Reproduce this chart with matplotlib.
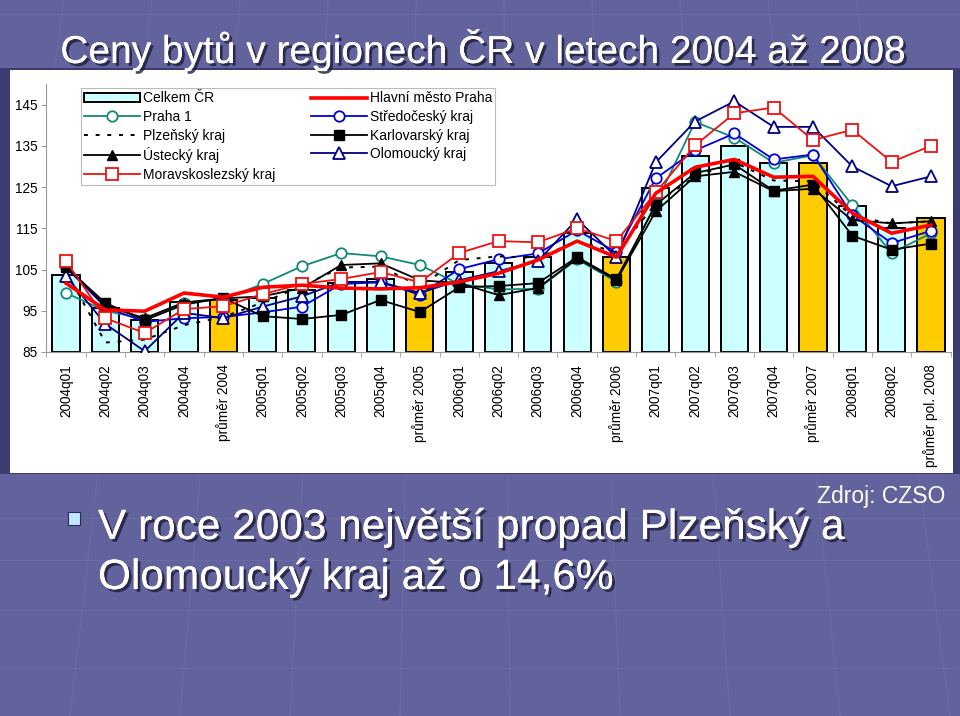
import matplotlib
matplotlib.use("Agg")
import matplotlib.pyplot as plt
from matplotlib import patheffects as pe
from matplotlib.patches import Rectangle
import numpy as np

plt.rcParams["font.family"] = ["Liberation Sans", "DejaVu Sans"]

labels = ['2004q01', '2004q02', '2004q03', '2004q04', 'průměr 2004',
          '2005q01', '2005q02', '2005q03', '2005q04', 'průměr 2005',
          '2006q01', '2006q02', '2006q03', '2006q04', 'průměr 2006',
          '2007q01', '2007q02', '2007q03', '2007q04', 'průměr 2007',
          '2008q01', '2008q02', 'průměr pol. 2008']

celkem = [103.6, 95.7, 92.7, 97.1, 97.6, 98.1, 100.0, 101.7, 102.7, 100.5,
          104.4, 106.5, 108.0, 113.8, 108.0, 124.7, 132.5, 135.0, 130.8, 130.8,
          120.4, 115.0, 117.4]
praha = [101.7, 95.2, 94.9, 99.3, 98.3, 100.7, 101.2, 100.5, 100.3, 100.6,
         102.0, 104.1, 107.3, 111.9, 108.0, 123.5, 129.8, 131.7, 127.4, 127.6,
         118.7, 113.8, 115.8]
praha1 = [99.3, 95.0, 93.0, 97.0, 97.8, 101.5, 105.8, 109.0, 108.2, 106.1,
          101.5, 100.2, 100.3, 107.5, 102.0, 121.0, 140.8, 137.0, 130.9, 132.7,
          120.6, 109.0, 113.8]
stredocesky = [105.5, 95.9, 92.3, 93.2, 93.5, 94.6, 96.0, 101.5, 101.9, 98.9,
               105.1, 107.5, 108.9, 114.5, 109.2, 127.1, 133.9, 138.0, 131.7, 132.9,
               118.2, 111.4, 114.4]
plzensky = [104.5, 87.3, 88.0, 91.5, 93.5, 97.0, 101.0, 105.5, 105.7, 101.0,
            107.3, 108.2, 107.8, 111.9, 109.2, 121.0, 127.5, 131.0, 126.6, 126.4,
            117.9, 116.2, 116.7]
karlovarsky = [105.5, 96.9, 92.7, 96.5, 98.1, 93.7, 93.0, 94.0, 97.6, 94.7,
               100.7, 101.0, 101.7, 108.0, 102.7, 120.7, 128.4, 130.5, 124.1, 125.6,
               113.2, 109.8, 111.3]
ustecky = [106.0, 96.2, 93.2, 97.0, 98.0, 98.5, 100.5, 106.1, 106.5, 102.4,
           101.7, 98.8, 100.5, 107.7, 102.4, 119.1, 127.6, 128.7, 124.0, 124.6,
           117.0, 116.2, 116.7]
olomoucky = [103.4, 91.8, 85.2, 94.5, 93.2, 96.0, 98.5, 102.0, 102.0, 99.3,
             102.4, 104.6, 107.0, 117.2, 108.0, 131.0, 140.9, 145.8, 139.6, 139.6,
             130.0, 125.2, 127.6]
moravskoslezsky = [107.0, 93.2, 89.6, 95.4, 96.1, 99.0, 101.5, 102.7, 104.4, 101.9,
                   109.0, 111.9, 111.6, 115.0, 111.9, 123.7, 135.1, 142.9, 144.3, 136.4,
                   138.9, 131.1, 135.0]

W, H = 960, 716
fig = plt.figure(figsize=(W / 100, H / 100), dpi=100)
fig.patch.set_facecolor('#62629c')

# pozadí snímku - jemná mřížka
bg = fig.add_axes([0, 0, 1, 1], zorder=-5)
bg.set_xlim(0, W)
bg.set_ylim(H, 0)
bg.axis('off')
for yy in [14, 518, 560, 610, 668]:
    bg.plot([0, W], [yy, yy], color='#7878ae', lw=0.8, alpha=0.45, zorder=1)
for xx in np.arange(-40, 1040, 110):
    bg.plot([480 + (xx - 480) * 0.8, xx], [0, H], color='#7878ae', lw=0.8, alpha=0.45, zorder=1)
bg.add_patch(Rectangle((0, 68), W, 406, facecolor='#3c3c70', edgecolor='none', zorder=3))
bg.add_patch(Rectangle((10, 70), 943, 403, facecolor='white', edgecolor='none', zorder=4))

# graf
ax = fig.add_axes([46.4 / W, 1 - 352 / H, 904.2 / W, 268 / H])
ax.patch.set_visible(False)
x = np.arange(len(labels))
bar_colors = ['#ffcc00' if l.startswith('průměr') else '#ccffff' for l in labels]
bars = ax.bar(x, np.array(celkem) - 85, bottom=85, width=0.69, color=bar_colors,
              edgecolor='black', linewidth=1.4, label='Celkem ČR', zorder=2)

l_praha, = ax.plot(x, praha, color='#ff0000', lw=2.6, zorder=6, label='Hlavní město Praha')
l_p1, = ax.plot(x, praha1, color='#128878', lw=1.3, marker='o', ms=7.5, mfc='white',
                mec='#128878', mew=1.3, zorder=4, label='Praha 1')
l_stc, = ax.plot(x, stredocesky, color='#0000dd', lw=1.3, marker='o', ms=7.5, mfc='white',
                 mec='#0000dd', mew=1.3, zorder=4, label='Středočeský kraj')
l_plz, = ax.plot(x, plzensky, color='black', lw=1.4, ls=(0, (2, 4)), zorder=4,
                 label='Plzeňský kraj')
l_kv, = ax.plot(x, karlovarsky, color='black', lw=1.3, marker='s', ms=6.5, zorder=5,
                label='Karlovarský kraj')
l_ust, = ax.plot(x, ustecky, color='black', lw=1.3, marker='^', ms=7.5, zorder=5,
                 label='Ústecký kraj')
l_olo, = ax.plot(x, olomoucky, color='#000080', lw=1.3, marker='^', ms=8.5, mfc='white',
                 mec='#000080', mew=1.3, zorder=4, label='Olomoucký kraj')
l_msk, = ax.plot(x, moravskoslezsky, color='#ee1111', lw=1.3, marker='s', ms=8, mfc='white',
                 mec='#ee1111', mew=1.3, zorder=5, label='Moravskoslezský kraj')

ax.set_xlim(-0.5, len(labels) - 0.5)
ax.set_ylim(85, 150)
ax.set_yticks(range(85, 146, 10))
ax.set_xticks(x)
ax.set_xticklabels(labels, rotation=90, va='top', fontsize=9.8)
ax.set_xticks(np.arange(-0.5, len(labels), 1), minor=True)
ax.tick_params(axis='x', which='major', length=0, pad=9)
ax.tick_params(axis='x', which='minor', length=3.5, color='#999999')
ax.tick_params(axis='y', length=3.5, color='#999999', labelsize=9.8, pad=2.5)
for s in ['top', 'right']:
    ax.spines[s].set_visible(False)
for s in ['left', 'bottom']:
    ax.spines[s].set_color('#999999')

handles = [bars, l_p1, l_plz, l_ust, l_msk, l_praha, l_stc, l_kv, l_olo]
leg = ax.legend(handles=handles, labels=[h.get_label() for h in handles], ncol=2,
                loc='upper left', bbox_to_anchor=(81 / W, 1 - 88 / H),
                bbox_transform=fig.transFigure, fontsize=10, frameon=True,
                fancybox=False, edgecolor='#aaaaaa', handlelength=4.0,
                handletextpad=0.2, columnspacing=2.6, labelspacing=0.33,
                borderpad=0.25, borderaxespad=0)
leg.get_frame().set_linewidth(0.8)
leg.set_zorder(10)

# texty snímku
shadow = [pe.withSimplePatchShadow(offset=(2, -2), shadow_rgbFace='#1c1c3a', alpha=0.8),
          pe.Normal()]
fig.text(483 / W, 1 - 63 / H, 'Ceny bytů v regionech ČR v letech 2004 až 2008',
         ha='center', va='baseline', fontsize=28, color='white', path_effects=shadow)
fig.text(945 / W, 1 - 503 / H, 'Zdroj: CZSO', ha='right', va='baseline',
         fontsize=16.5, color='white')
bg.add_patch(Rectangle((68, 512), 12, 13, facecolor='#bfe8ff', edgecolor='#2a2a55',
                       lw=0.8, zorder=5))
fig.text(98 / W, 1 - 539 / H, 'V roce 2003 největší propad Plzeňský a',
         ha='left', va='baseline', fontsize=30.5, color='white', path_effects=shadow)
fig.text(98 / W, 1 - 589 / H, 'Olomoucký kraj až o 14,6%',
         ha='left', va='baseline', fontsize=30.5, color='white', path_effects=shadow)

fig.savefig('out.png', dpi=100, facecolor=fig.get_facecolor())
